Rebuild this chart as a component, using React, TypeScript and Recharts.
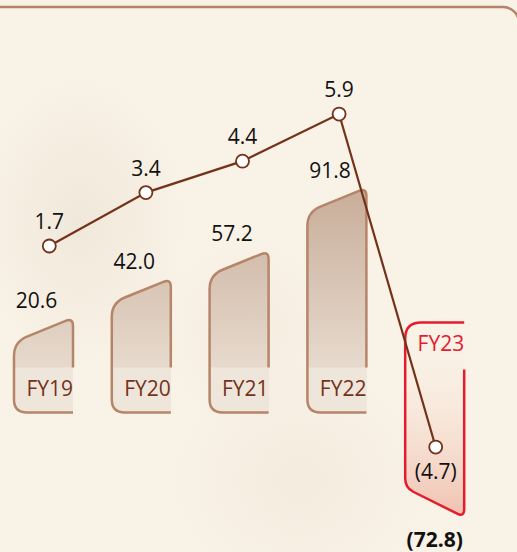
import React from 'react';
import { ComposedChart, Bar, Line, XAxis, YAxis, LabelList } from 'recharts';

const years = ['FY19', 'FY20', 'FY21', 'FY22', 'FY23'];
const barValues = [20.6, 42.0, 57.2, 91.8, -72.8];
const lineValues = [1.7, 3.4, 4.4, 5.9, -4.7];

const data = years.map((year, i) => ({ year, bar: barValues[i], line: lineValues[i] }));

const BROWN = '#74321a';
const TAN = '#b5856a';
const RED = '#e41c2e';
const FONT = '"Open Sans", "Noto Sans", sans-serif';

const fmt = (v: number) => (v < 0 ? `(${Math.abs(v).toFixed(1)})` : v.toFixed(1));

function BarShape(props: any) {
  const { x, y, width, height, payload } = props;
  const v: number = payload.bar;
  const R = x + width;
  const a = y;
  const b = y + height;

  if (v >= 0) {
    const top = Math.min(a, b);
    const zeroY = Math.max(a, b);
    const bottom = zeroY + 57;
    const S = 24;
    const outline = `M${R},${zeroY + 12} L${R},${top + 8} Q${R},${top} ${R - 7.4},${top + 3} L${x + 13},${top + S - 5.3} Q${x},${top + S} ${x},${top + S + 14} L${x},${bottom - 13} Q${x},${bottom} ${x + 13},${bottom} L${R},${bottom}`;
    const label = `M${x},${zeroY + 12} L${R},${zeroY + 12} L${R},${bottom} L${x + 13},${bottom} Q${x},${bottom} ${x},${bottom - 13} Z`;
    return (
      <g>
        <path d={`${outline} L${R},${zeroY + 12} Z`} fill="url(#barFill)" />
        <path d={label} fill="#efe6db" />
        <path d={outline} fill="none" stroke={TAN} strokeWidth={2.5} />
        <text x={R} y={bottom - 17} textAnchor="end" fontSize={21} fill={BROWN} fontFamily={FONT}>
          {payload.year}
        </text>
        <text x={x + width / 2 - 7} y={top - 10} textAnchor="middle" fontSize={21} fill="#111" fontFamily={FONT}>
          {fmt(v)}
        </text>
      </g>
    );
  }

  const zeroY = Math.min(a, b);
  const valY = Math.max(a, b);
  const top = zeroY - 33;
  const br = valY + 29;
  const bl = br - 30;
  const outline = `M${R},${top} L${x + 16},${top} Q${x},${top} ${x},${top + 16} L${x},${bl - 9} Q${x},${bl} ${x + 8},${bl + 4.3} L${R - 7},${br - 3.8} Q${R},${br} ${R},${br - 9} L${R},${zeroY + 14}`;
  return (
    <g>
      <path d={`${outline} L${R},${top} Z`} fill="url(#negFill)" />
      <path d={outline} fill="none" stroke={RED} strokeWidth={2.5} />
      <text x={R} y={top + 28} textAnchor="end" fontSize={21} fill={RED} fontFamily={FONT}>
        {payload.year}
      </text>
      <text x={x + width / 2} y={br + 30} textAnchor="middle" fontSize={21} fontWeight="bold" fill="#111" fontFamily={FONT}>
        {fmt(v)}
      </text>
    </g>
  );
}

function LineLabel(props: any) {
  const { x, y, value } = props;
  const neg = value < 0;
  return (
    <text x={x} y={neg ? y + 32 : y - 17} textAnchor="middle" fontSize={21} fill="#111" fontFamily={FONT}>
      {fmt(value)}
    </text>
  );
}

export default function App() {
  return (
    <div
      style={{
        position: 'absolute',
        left: 0,
        top: 0,
        width: 517,
        height: 552,
        overflow: 'hidden',
        background:
          'radial-gradient(ellipse 110px 150px at 80px 220px, rgba(232,222,208,0.5), rgba(232,222,208,0)), radial-gradient(ellipse 100px 100px at 250px 330px, rgba(236,226,212,0.35), rgba(236,226,212,0)), radial-gradient(ellipse 140px 120px at 300px 480px, rgba(236,226,212,0.4), rgba(236,226,212,0)), #f9f2e6',
      }}
    >
      <svg width={517} height={552} style={{ position: 'absolute', left: 0, top: 0 }}>
        <rect x={-20} y={7} width={539} height={600} rx={16} fill="none" stroke={TAN} strokeWidth={2.5} />
      </svg>
      <div style={{ position: 'absolute', left: 0, top: 0 }}>
        <ComposedChart width={517} height={552} data={data} margin={{ top: 0, right: 33, bottom: 0, left: -5 }}>
          <defs>
            <linearGradient id="barFill" x1="0" y1="180" x2="0" y2="400" gradientUnits="userSpaceOnUse">
              <stop offset="0" stopColor="#c7ab97" />
              <stop offset="1" stopColor="#ece2d6" />
            </linearGradient>
            <linearGradient id="negFill" x1="0" y1="330" x2="0" y2="520" gradientUnits="userSpaceOnUse">
              <stop offset="0" stopColor="#f8f0e4" stopOpacity={0} />
              <stop offset="1" stopColor="#f0bfae" />
            </linearGradient>
          </defs>
          <XAxis xAxisId="bar" dataKey="year" hide />
          <XAxis xAxisId="line" dataKey="year" hide padding={{ left: 6, right: 0 }} />
          <YAxis yAxisId="bar" hide domain={[-107.6, 194.7]} allowDataOverflow />
          <YAxis yAxisId="line" hide domain={[-8.04, 9.53]} allowDataOverflow />
          <Bar
            dataKey="bar"
            xAxisId="bar"
            yAxisId="bar"
            barSize={59}
            shape={BarShape}
            isAnimationActive={false}
          />
          <Line
            type="linear"
            dataKey="line"
            xAxisId="line"
            yAxisId="line"
            stroke={BROWN}
            strokeWidth={2.2}
            dot={{ r: 6.5, fill: '#fff', stroke: BROWN, strokeWidth: 1.8 }}
            activeDot={false}
            isAnimationActive={false}
          >
            <LabelList dataKey="line" content={LineLabel} />
          </Line>
        </ComposedChart>
      </div>
    </div>
  );
}
